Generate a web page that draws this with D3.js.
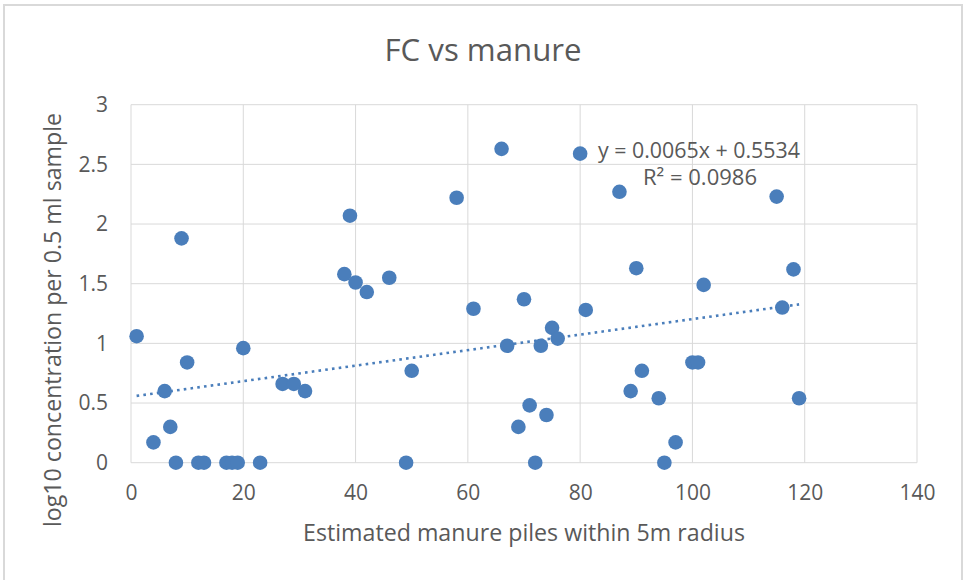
<!DOCTYPE html>
<html><head><meta charset="utf-8">
<script src="https://cdn.jsdelivr.net/npm/d3@7"></script>
<style>body{margin:0;background:#fff}svg{display:block}text{font-family:"Open Sans",sans-serif;fill:#595959}</style>
</head><body><svg id="c" width="964" height="580"></svg>
<script>
const manurePiles = [1,4,6,7,8,9,10,12,13,17,18,19,20,23,27,29,31,38,39,40,42,46,49,50,58,61,66,67,69,70,71,72,73,74,75,76,80,81,87,89,90,91,94,95,97,100,101,102,115,116,118,119];
const logConc =     [1.06,0.17,0.6,0.3,0,1.88,0.84,0,0,0,0,0,0.96,0,0.66,0.66,0.6,1.58,2.07,1.51,1.43,1.55,0,0.77,2.22,1.29,2.63,0.98,0.3,1.37,0.48,0,0.98,0.4,1.13,1.04,2.59,1.28,2.27,0.6,1.63,0.77,0.54,0,0.17,0.84,0.84,1.49,2.23,1.3,1.62,0.54];
const xTicks = [0,20,40,60,80,100,120,140];
const yTicks = [0,0.5,1,1.5,2,2.5,3];
const trendSlope = 0.0065, trendIntercept = 0.5534;
const eqLabel = "y = 0.0065x + 0.5534";
const r2Label = "R² = 0.0986";
const titleText = "FC vs manure";
const xTitle = "Estimated manure piles within 5m radius";
const yTitle = "log10 concentration per 0.5 ml sample";

(function(){
const svg = d3.select("#c");
const pL = 131, pR = 917, pT = 104.7, pB = 462.7;
svg.append("rect").attr("x",4).attr("y",5).attr("width",958).attr("height",590).attr("fill","#fff").attr("stroke","#d9d9d9").attr("stroke-width",2);

const x = d3.scaleLinear().domain([0,140]).range([pL,pR]);
const y = d3.scaleLinear().domain([0,3]).range([pB,pT]);

svg.append("g").selectAll("line").data(xTicks).join("line")
  .attr("x1",d=>x(d)).attr("x2",d=>x(d)).attr("y1",pT).attr("y2",pB)
  .attr("stroke","#d9d9d9").attr("stroke-width",1);
svg.append("g").selectAll("line").data(yTicks).join("line")
  .attr("x1",pL).attr("x2",pR).attr("y1",d=>y(d)).attr("y2",d=>y(d))
  .attr("stroke","#d9d9d9").attr("stroke-width",1);

const xa = svg.append("g").attr("transform",`translate(0,${pB})`)
  .call(d3.axisBottom(x).tickValues(xTicks).tickSize(0).tickPadding(22).tickFormat(d3.format("d")));
xa.select(".domain").remove();
xa.selectAll("text").style("font-size","21px").attr("fill","#595959").style("font-family","'Open Sans',sans-serif");
const ya = svg.append("g").attr("transform",`translate(${pL},0)`)
  .call(d3.axisLeft(y).tickValues(yTicks).tickSize(0).tickPadding(23).tickFormat(d=>String(d)));
ya.select(".domain").remove();
ya.selectAll("text").style("font-size","21px").attr("fill","#595959").style("font-family","'Open Sans',sans-serif");

svg.append("text").attr("x",483).attr("y",61).attr("text-anchor","middle")
  .style("font-size","31px").attr("textLength",197).attr("lengthAdjust","spacingAndGlyphs").text(titleText);
svg.append("text").attr("x",524).attr("y",541).attr("text-anchor","middle")
  .style("font-size","23px").attr("textLength",442).attr("lengthAdjust","spacingAndGlyphs").text(xTitle);
svg.append("text").attr("transform","translate(61,320) rotate(-90)").attr("text-anchor","middle")
  .style("font-size","23px").attr("textLength",414).attr("lengthAdjust","spacingAndGlyphs").text(yTitle);

const xMin = d3.min(manurePiles), xMax = d3.max(manurePiles);
svg.append("line")
  .attr("x1",x(xMin)).attr("y1",y(trendSlope*xMin+trendIntercept))
  .attr("x2",x(xMax)).attr("y2",y(trendSlope*xMax+trendIntercept))
  .attr("stroke","#4a7ebb").attr("stroke-width",2.6).attr("stroke-dasharray","2.6 4.2");

svg.append("g").selectAll("circle").data(manurePiles.map((v,i)=>[v,logConc[i]])).join("circle")
  .attr("cx",d=>x(d[0])).attr("cy",d=>y(d[1])).attr("r",7.3).attr("fill","#4a7ebb");

svg.append("text").attr("x",699).attr("y",158).attr("text-anchor","middle")
  .style("font-size","21px").attr("textLength",202).attr("lengthAdjust","spacingAndGlyphs").text(eqLabel);
svg.append("text").attr("x",700).attr("y",185).attr("text-anchor","middle")
  .style("font-size","21px").attr("textLength",114).attr("lengthAdjust","spacingAndGlyphs").text(r2Label);
})();
</script></body></html>
